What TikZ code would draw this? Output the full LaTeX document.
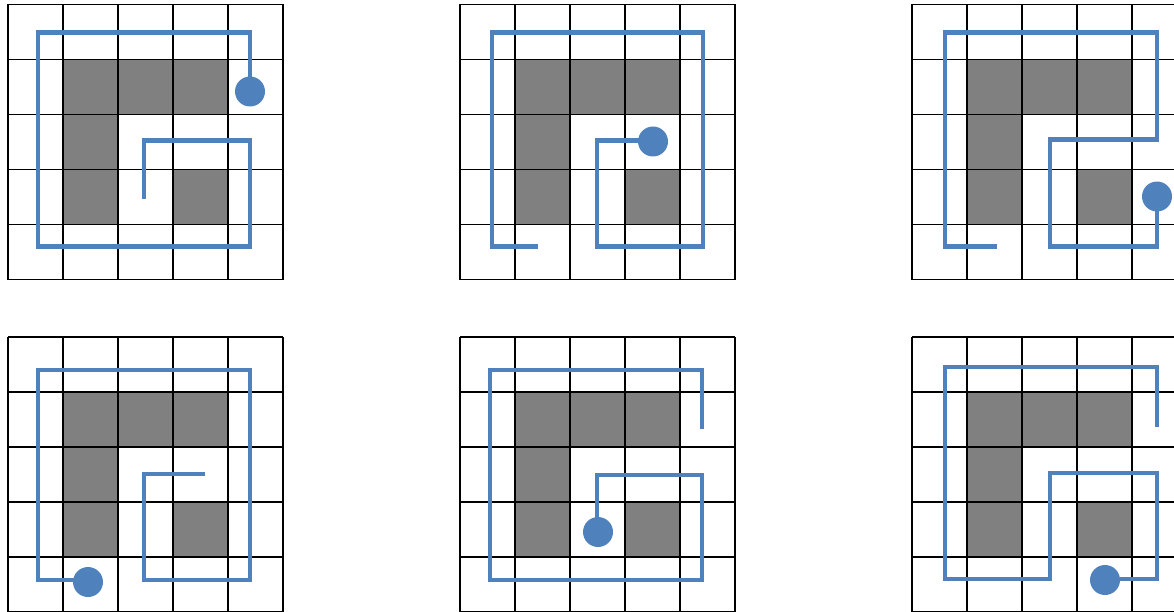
\documentclass[tikz,border=0pt]{standalone}
\usepackage{xcolor}
\definecolor{routeblue}{RGB}{79,129,189}

% one 5x5 board: grey wall cells and the black grid
\newcommand{\board}{%
  \foreach \c/\r in {1/1,2/1,3/1,1/2,1/3,3/3}
    \fill[wall] (55*\c,55*\r) rectangle ++(55,55);
  \foreach \k in {0,...,5} {
    \draw[gridline] (55*\k,0) -- (55*\k,275);
    \draw[gridline] (0,55*\k) -- (275,55*\k);
  }%
}

\begin{document}
\begin{tikzpicture}[x=1pt, y=-1pt,
    wall/.style={fill=gray},
    gridline/.style={black, line width=1.8pt},
    route/.style={routeblue, line width=4.5pt, line join=miter},
    head/.style={fill=routeblue}]

    \clip (0,0) rectangle (1174,612);

    % Top left
    \begin{scope}[shift={(8,4.5)}]
        \board
        \draw[route] (136,195) -- (136,136) -- (242,136) -- (242,242) -- (30,242)
            -- (30,28) -- (242,28) -- (242,87);
        \fill[head] (242,87) circle (15);
    \end{scope}

    % Top middle
    \begin{scope}[shift={(460,4.5)}]
        \board
        \draw[route] (78,242) -- (32,242) -- (32,28) -- (243,28) -- (243,242)
            -- (137,242) -- (137,136) -- (195,136);
        \fill[head] (193,137) circle (15);
    \end{scope}

    % Top right
    \begin{scope}[shift={(912,4.5)}]
        \board
        \draw[route] (85,242) -- (33,242) -- (33,28) -- (245,28) -- (245,135)
            -- (138,135) -- (138,242) -- (245,242) -- (245,192);
        \fill[head] (245,192) circle (15);
    \end{scope}

    % Bottom left
    \begin{scope}[shift={(8,337)}]
        \board
        \draw[route] (197,137) -- (136,137) -- (136,243) -- (242,243) -- (242,33)
            -- (30,33) -- (30,243) -- (80,243);
        \fill[head] (80,245) circle (15);
    \end{scope}

    % Bottom middle
    \begin{scope}[shift={(460,337)}]
        \board
        \draw[route] (242,92) -- (242,33) -- (30,33) -- (30,243) -- (242,243)
            -- (242,138) -- (137,138) -- (137,195);
        \fill[head] (138,195) circle (15);
    \end{scope}

    % Bottom right
    \begin{scope}[shift={(912,337)}]
        \board
        \draw[route] (245,90) -- (245,30) -- (33,30) -- (33,242) -- (138,242)
            -- (138,136) -- (245,136) -- (245,242) -- (208,242);
        \fill[head] (193,243) circle (15);
    \end{scope}

\end{tikzpicture}
\end{document}
